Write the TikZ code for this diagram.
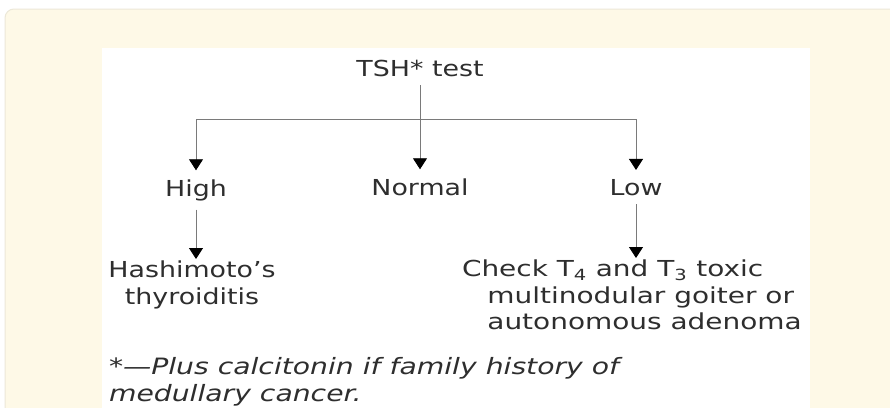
\documentclass[tikz,border=0pt]{standalone}
\usepackage{fontspec}
\usepackage{graphicx}
\setmainfont{DejaVu Sans}
\usetikzlibrary{arrows.meta}
\definecolor{cream}{HTML}{FEF9E7}
\definecolor{creamedge}{HTML}{ECE8D8}
\definecolor{txt}{HTML}{2E2E2E}
\definecolor{conn}{HTML}{7A7A7A}
\newcommand\wx[1]{\scalebox{1.22}[1]{#1}}
\newcommand\wy[1]{\scalebox{1.27}[1]{#1}}
\begin{document}
\begin{tikzpicture}[x=1pt,y=-1pt,
  lbl/.style={inner sep=0pt,outer ysep=9pt,anchor=base,text=txt,font=\fontsize{22}{27}\selectfont},
  blk/.style={inner sep=0pt,outer sep=0pt,text=txt,font=\fontsize{22}{26.5}\selectfont},
  arr/.style={draw=conn,line width=0.9pt,-{Triangle[width=14pt,length=11pt,fill=black,color=black]}},
  ln/.style={draw=conn,line width=0.9pt}]
\useasboundingbox (0,0) rectangle (890,407);
\fill[white] (0,0) rectangle (890,407);
\draw[fill=cream,draw=creamedge,line width=1pt,rounded corners=9pt] (5,9) rectangle (910,430);
\fill[white] (102,48) rectangle (810,420);

\node[lbl] (tsh) at (420,76) {\wx{TSH* test}};
\node[lbl] (high) at (196,196) {\wx{High}};
\node[lbl] (normal) at (420,195) {\wx{Normal}};
\node[lbl] (low) at (636,195) {\wx{Low}};
\node[blk,anchor=north] (hash) at (192,259) {\wx{\begin{tabular}{@{}c@{}}Hashimoto’s\\thyroiditis\end{tabular}}};
\node[blk,anchor=north west] (check) at (462,258) {\wy{\begin{tabular}{@{}l@{}}Check T\textsubscript{4} and T\textsubscript{3} toxic\\\hspace*{20pt}multinodular goiter or\\\hspace*{20pt}autonomous adenoma\end{tabular}}};
\node[blk,anchor=north west,font=\fontsize{22.5}{27}\selectfont] (foot) at (109,356) {\scalebox{1.255}[1]{\itshape\begin{tabular}{@{}l@{}}*---Plus calcitonin if family history of\\medullary cancer.\end{tabular}}};

\coordinate (bar) at (420,119);
\draw[arr] (tsh.south) -- (normal.north);
\draw[arr] (bar) -| (high.north);
\draw[arr] (bar) -| (low.north);
\draw[arr] (high.south) -- (high.south |- hash.north);
\draw[arr] (low.south) -- (low.south |- check.north);
\end{tikzpicture}
\end{document}
